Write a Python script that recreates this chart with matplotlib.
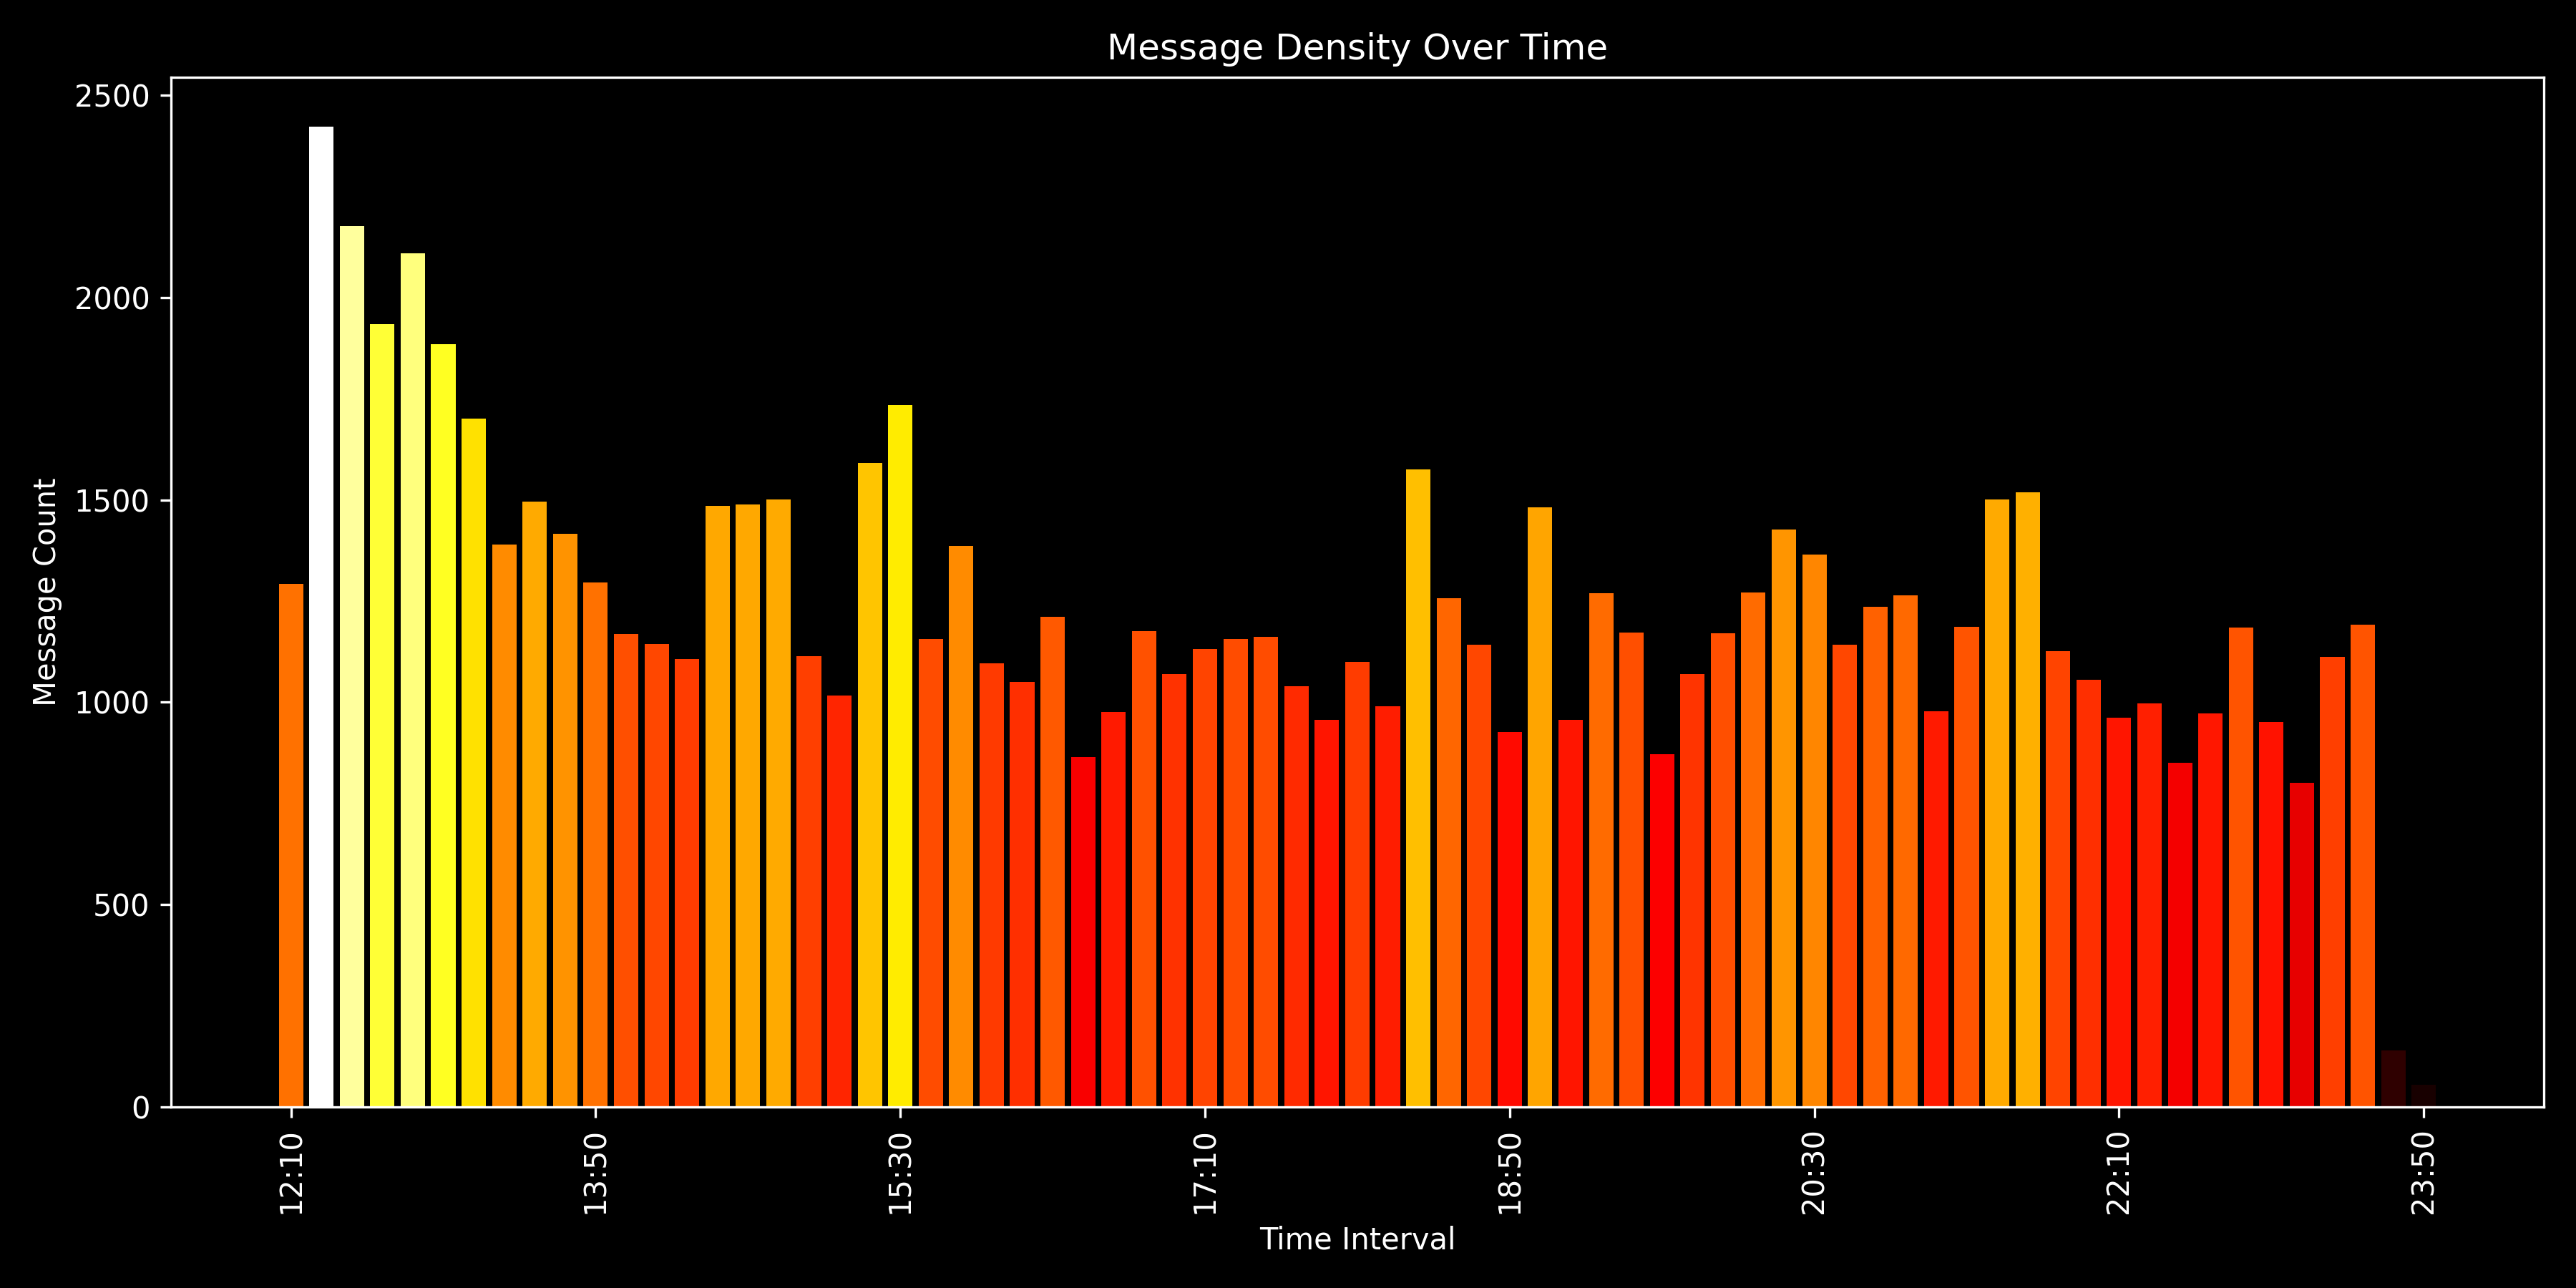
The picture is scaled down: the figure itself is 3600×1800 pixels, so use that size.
import matplotlib
matplotlib.use("Agg")
import matplotlib.pyplot as plt
import numpy as np

plt.style.use("dark_background")

counts = [1292, 2423, 2177, 1935, 2109, 1885, 1701, 1390, 1496, 1417,
          1296, 1168, 1144, 1106, 1486, 1489, 1501, 1113, 1016, 1592,
          1735, 1156, 1386, 1097, 1051, 1211, 865, 976, 1175, 1069,
          1131, 1156, 1161, 1039, 957, 1100, 991, 1575, 1257, 1143,
          927, 1482, 957, 1269, 1173, 872, 1070, 1170, 1271, 1427,
          1365, 1143, 1235, 1264, 977, 1186, 1501, 1518, 1127, 1056,
          961, 998, 851, 973, 1184, 952, 801, 1112, 1191, 139,
          54]

start_minutes = 12 * 60 + 10
time_labels = [f"{(start_minutes + 10 * i) // 60:02d}:{(start_minutes + 10 * i) % 60:02d}"
               for i in range(len(counts))]

vals = np.array(counts, dtype=float)
colors = plt.cm.hot(vals / vals.max())

fig, ax = plt.subplots(figsize=(12, 6), dpi=300)
x = np.arange(len(counts))
ax.bar(x, vals, color=colors, width=0.8)

tick_idx = list(range(0, len(counts), 10))
ax.set_xticks(tick_idx)
ax.set_xticklabels([time_labels[i] for i in tick_idx], rotation=90)

ax.set_title("Message Density Over Time")
ax.set_xlabel("Time Interval")
ax.set_ylabel("Message Count")

fig.tight_layout()
fig.savefig("out.png", dpi=300)
